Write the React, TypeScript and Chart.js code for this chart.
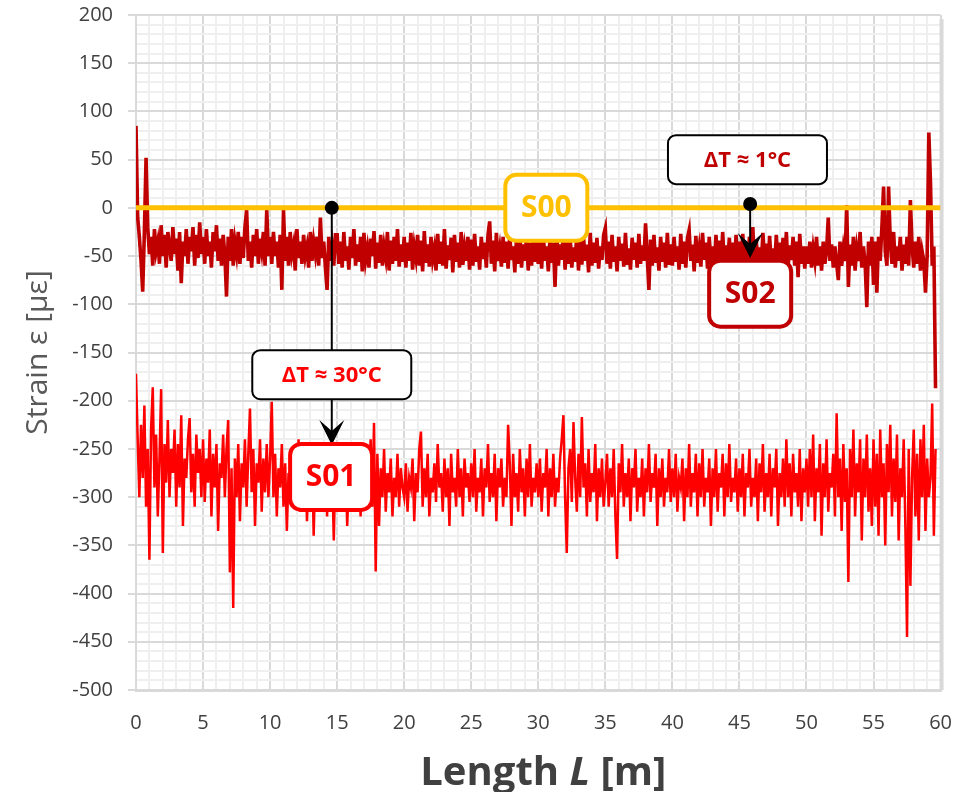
import React, { useEffect, useRef } from 'react';
import { Chart, registerables } from 'chart.js';

Chart.register(...registerables);

// ---- data ----
const STEP = 0.125; // m between samples of S01 / S02
const S00_X = [0, 60];
const S00_Y = [0, 0];

const S01_Y = [
  -172, -240, -300, -225, -280, -205, -310, -250, -365, -230, -186, -290, -235, -320, -260, -188, -358, -245, -285, -220,
  -300, -250, -275, -230, -310, -245, -290, -215, -330, -260, -280, -240, -218, -295, -255, -310, -235, -275, -250, -300,
  -240, -305, -260, -285, -230, -320, -255, -290, -245, -335, -265, -280, -235, -300, -250, -220, -378, -270, -415, -260,
  -300, -245, -325, -265, -290, -240, -310, -255, -208, -295, -250, -330, -265, -285, -240, -315, -260, -295, -245, -300,
  -260, -201, -300, -255, -320, -270, -290, -245, -310, -265, -335, -275, -295, -250, -305, -270, -285, -240, -315, -265,
  -300, -255, -325, -275, -290, -250, -340, -270, -300, -245, -310, -280, -295, -260, -320, -255, -290, -270, -345, -265,
  -300, -260, -315, -275, -295, -255, -330, -280, -300, -265, -310, -250, -290, -270, -320, -260, -305, -245, -295, -275,
  -240, -310, -223, -377, -255, -330, -270, -300, -250, -315, -275, -295, -260, -320, -280, -300, -255, -310, -270, -290,
  -300, -265, -315, -280, -290, -260, -325, -275, -295, -250, -232, -310, -270, -300, -255, -320, -280, -295, -265, -305,
  -245, -290, -275, -315, -260, -300, -270, -330, -255, -295, -280, -310, -250, -300, -270, -320, -260, -290, -275, -305,
  -265, -300, -250, -315, -280, -295, -260, -320, -270, -290, -245, -305, -275, -300, -255, -325, -270, -290, -260, -310,
  -280, -300, -225, -265, -330, -255, -300, -275, -315, -250, -295, -270, -320, -260, -300, -245, -310, -280, -295, -265,
  -300, -260, -315, -275, -290, -250, -320, -270, -300, -255, -310, -280, -295, -260, -240, -215, -300, -358, -270, -250,
  -305, -222, -280, -315, -255, -300, -217, -290, -265, -320, -250, -305, -275, -295, -245, -325, -270, -300, -260, -310,
  -285, -255, -310, -270, -300, -250, -320, -364, -265, -295, -245, -310, -275, -300, -260, -325, -270, -290, -250, -315,
  -280, -300, -260, -320, -270, -295, -245, -305, -275, -290, -255, -330, -270, -300, -260, -310, -280, -295, -250, -305,
  -270, -300, -255, -315, -280, -290, -260, -325, -270, -300, -245, -310, -275, -295, -255, -320, -265, -300, -250, -310,
  -280, -295, -260, -330, -270, -300, -250, -315, -275, -290, -255, -320, -265, -300, -245, -305, -280, -295, -260, -315,
  -270, -300, -255, -320, -275, -290, -250, -310, -280, -300, -260, -325, -265, -295, -245, -315, -275, -300, -255, -320,
  -270, -290, -250, -330, -275, -300, -260, -310, -240, -300, -265, -320, -255, -295, -275, -310, -250, -325, -270, -295,
  -260, -310, -250, -300, -235, -325, -270, -295, -245, -340, -265, -300, -240, -315, -275, -290, -255, -320, -213, -300,
  -260, -335, -245, -305, -270, -388, -250, -300, -230, -320, -265, -295, -240, -345, -260, -300, -235, -315, -270, -330,
  -240, -310, -255, -340, -230, -300, -265, -350, -245, -295, -225, -320, -260, -305, -235, -345, -270, -300, -240, -330,
  -445, -250, -392, -280, -230, -320, -255, -345, -240, -300, -225, -335, -260, -300, -280, -203, -340, -250,
];

const S02_Y = [
  85, -10, -30, -55, -87, -25, 52, -20, -48, -30, -60, -22, -45, -35, -58, -18, -50, -28, -62, -25,
  -40, -55, -20, -48, -32, -65, -25, -78, -35, -50, -22, -58, -30, -45, -20, -60, -28, -52, -15, -48,
  -30, -58, -22, -50, -35, -62, -25, -45, -18, -55, -32, -60, -28, -48, -92, -30, -55, -22, -60, -35,
  -48, -25, -58, -30, -52, -20, -2, -55, -35, -62, -28, -50, -22, -58, -32, -45, -25, -60, -2, -50,
  -30, -58, -25, -50, -35, -62, -28, -85, -2, -55, -30, -60, -25, -48, -38, -65, -22, -52, -35, -58,
  -28, -50, -40, -62, -25, -55, -35, -48, -30, -60, -10, -52, -35, -62, -85, -30, -55, -40, -60, -28,
  -28, -58, -35, -62, -25, -55, -40, -64, -30, -52, -22, -60, -38, -56, -30, -66, -26, -54, -42, -62,
  -32, -50, -24, -63, -36, -57, -28, -60, -40, -52, -25, -65, -34, -58, -30, -55, -22, -61, -38, -56,
  -30, -62, -36, -55, -26, -64, -40, -52, -28, -60, -34, -66, -24, -57, -38, -61, -30, -53, -42, -65,
  -27, -58, -35, -60, -22, -63, -39, -54, -31, -67, -28, -56, -36, -62, -25, -59, -41, -55, -30, -64,
  -33, -60, -27, -56, -40, -64, -30, -53, -36, -62, -28, -14, -58, -34, -66, -26, -55, -42, -61, -30,
  -57, -35, -63, -28, -54, -40, -67, -31, -58, -25, -62, -38, -55, -29, -65, -36, -60, -27, -56, -41,
  -58, -32, -63, -28, -55, -40, -66, -30, -57, -36, -82, -27, -60, -38, -54, -25, -64, -35, -58, -29,
  -62, -41, -56, -27, -65, -34, -59, -30, -55, -38, -67, -26, -60, -36, -57, -31, -63, -40, -54, -28,
  -21, -58, -35, -63, -28, -56, -40, -66, -30, -55, -37, -61, -26, -59, -42, -64, -31, -54, -36, -62,
  -27, -58, -39, -55, -16, -50, -85, -33, -60, -28, -57, -41, -65, -30, -56, -36, -62, -26, -59, -38,
  -60, -30, -56, -40, -64, -27, -58, -35, -62, -31, -23, -55, -38, -66, -29, -57, -42, -61, -26, -54,
  -36, -63, -30, -58, -40, -65, -28, -56, -34, -62, -25, -59, -39, -55, -31, -67, -36, -57, -28, -61,
  -35, -58, -27, -63, -40, -55, -30, -60, -20, -64, -33, -57, -41, -62, -26, -55, -37, -66, -29, -58,
  -42, -61, -28, -56, -36, -65, -31, -59, -25, -62, -39, -54, -30, -60, -35, -72, -27, -58, -40, -63,
  -40, -58, -35, -62, -42, -55, -30, -60, -40, -65, -35, -58, -44, -10, -55, -38, -62, -40, -58, -75,
  -35, -60, -42, -55, 3, -82, -38, -60, -30, -65, -42, -55, -25, -62, -40, -58, -103, -35, -60, -30,
  -80, -35, -88, -30, -55, -20, 22, -45, -60, 22, -35, -58, -25, -62, -40, -55, -30, -65, -38, -58,
  -30, -60, 8, -40, -62, -35, -58, -30, -65, -45, -55, -88, -50, 78, 26, -60, -40, -187,
];

const X_MIN = 0;
const X_MAX = 60;
const X_MINOR = 1;
const X_MAJOR = 5;
const Y_MIN = -500;
const Y_MAX = 200;
const Y_MINOR = 10;
const Y_MAJOR = 50;

const X_TITLE_PARTS = ['Length ', 'L', ' [m]'];
const Y_TITLE = 'Strain ε [με]';

// annotations (data coordinates)
const ARROW_X = [14.6, 45.8];
const ARROW_FROM_Y = [0, 4];
const ARROW_TO_Y = [-246, -52];
const NOTE_TEXT = ['ΔT ≈ 30°C', 'ΔT ≈ 1°C'];
const NOTE_X = [14.6, 45.6];
const NOTE_Y = [-173, 50];
const TAG_TEXT = ['S00', 'S01', 'S02'];
const TAG_X = [30.6, 14.55, 45.8];
const TAG_Y = [0, -279, -89];

const C_S00 = '#FFC000';
const C_S01 = '#FF0000';
const C_S02 = '#C00000';
const TAG_COLORS = [C_S00, C_S01, C_S02];
const NOTE_COLORS = [C_S01, C_S02];

const FONT = '"Open Sans", "DejaVu Sans", sans-serif';

function roundRect(ctx: CanvasRenderingContext2D, x: number, y: number, w: number, h: number, r: number) {
  ctx.beginPath();
  ctx.moveTo(x + r, y);
  ctx.lineTo(x + w - r, y);
  ctx.arcTo(x + w, y, x + w, y + r, r);
  ctx.lineTo(x + w, y + h - r);
  ctx.arcTo(x + w, y + h, x + w - r, y + h, r);
  ctx.lineTo(x + r, y + h);
  ctx.arcTo(x, y + h, x, y + h - r, r);
  ctx.lineTo(x, y + r);
  ctx.arcTo(x, y, x + r, y, r);
  ctx.closePath();
}

const decorPlugin = {
  id: 'decor',
  beforeDatasetsDraw(chart: any) {
    const { ctx, chartArea } = chart;
    ctx.save();
    ctx.strokeStyle = '#d9d9d9';
    ctx.lineWidth = 4;
    ctx.beginPath();
    ctx.moveTo(chartArea.right + 1, chartArea.top + 4);
    ctx.lineTo(chartArea.right + 1, chartArea.bottom);
    ctx.stroke();
    ctx.restore();
  },
  afterDatasetsDraw(chart: any) {
    const { ctx } = chart;
    const xs = chart.scales.x;
    const ys = chart.scales.y;
    ctx.save();
    for (let k = 0; k < ARROW_X.length; k++) {
      const px = xs.getPixelForValue(ARROW_X[k]);
      const py0 = ys.getPixelForValue(ARROW_FROM_Y[k]);
      const py1 = ys.getPixelForValue(ARROW_TO_Y[k]);
      ctx.strokeStyle = '#000';
      ctx.fillStyle = '#000';
      ctx.lineWidth = 2;
      ctx.beginPath();
      ctx.moveTo(px, py0);
      ctx.lineTo(px, py1 - 12);
      ctx.stroke();
      ctx.beginPath();
      ctx.moveTo(px, py1);
      ctx.lineTo(px - 12.5, py1 - 25);
      ctx.lineTo(px, py1 - 14);
      ctx.lineTo(px + 12.5, py1 - 25);
      ctx.closePath();
      ctx.fill();
      ctx.beginPath();
      ctx.arc(px, py0, 7, 0, Math.PI * 2);
      ctx.fill();
    }
    for (let k = 0; k < NOTE_TEXT.length; k++) {
      const cx = xs.getPixelForValue(NOTE_X[k]);
      const cy = ys.getPixelForValue(NOTE_Y[k]);
      const w = 159, h = 49;
      roundRect(ctx, cx - w / 2, cy - h / 2, w, h, 8);
      ctx.fillStyle = '#fff';
      ctx.fill();
      ctx.strokeStyle = '#000';
      ctx.lineWidth = 2;
      ctx.stroke();
      ctx.fillStyle = NOTE_COLORS[k];
      ctx.font = `bold 22px ${FONT}`;
      ctx.textAlign = 'center';
      ctx.textBaseline = 'middle';
      ctx.fillText(NOTE_TEXT[k], cx, cy + 1);
    }
    for (let k = 0; k < TAG_TEXT.length; k++) {
      const cx = xs.getPixelForValue(TAG_X[k]);
      const cy = ys.getPixelForValue(TAG_Y[k]);
      const w = 82, h = 66;
      roundRect(ctx, cx - w / 2, cy - h / 2, w, h, 11);
      ctx.fillStyle = '#fff';
      ctx.fill();
      ctx.strokeStyle = TAG_COLORS[k];
      ctx.lineWidth = 4;
      ctx.stroke();
      ctx.fillStyle = TAG_COLORS[k];
      ctx.font = `bold 30px ${FONT}`;
      ctx.textAlign = 'center';
      ctx.textBaseline = 'middle';
      ctx.fillText(TAG_TEXT[k], cx, cy + 1);
    }
    ctx.restore();
  },
  afterDraw(chart: any) {
    const { ctx, chartArea } = chart;
    ctx.save();
    const fonts = [`bold 40px ${FONT}`, `italic bold 40px ${FONT}`, `bold 40px ${FONT}`];
    let total = 0;
    const widths: number[] = [];
    for (let i = 0; i < X_TITLE_PARTS.length; i++) {
      ctx.font = fonts[i];
      const w = ctx.measureText(X_TITLE_PARTS[i]).width;
      widths.push(w);
      total += w;
    }
    let x = (chartArea.left + chartArea.right) / 2 + 5 - total / 2;
    ctx.fillStyle = '#404040';
    ctx.textBaseline = 'alphabetic';
    ctx.textAlign = 'left';
    for (let i = 0; i < X_TITLE_PARTS.length; i++) {
      ctx.font = fonts[i];
      ctx.fillText(X_TITLE_PARTS[i], x, 785);
      x += widths[i];
    }
    ctx.restore();
  },
};

function isMult(v: number, m: number) {
  return Math.abs(Math.round(v / m) * m - v) < 1e-6;
}

export default function App() {
  const ref = useRef<HTMLCanvasElement | null>(null);
  useEffect(() => {
    if (!ref.current) return;
    const s01 = S01_Y.map((v, i) => ({ x: i * STEP, y: v }));
    const s02 = S02_Y.map((v, i) => ({ x: i * STEP, y: v }));
    const s00 = S00_Y.map((v, i) => ({ x: S00_X[i], y: v }));
    const chart = new Chart(ref.current, {
      type: 'line',
      data: {
        datasets: [
          { label: 'S00', data: s00, borderColor: C_S00, borderWidth: 5, pointRadius: 0, order: 0 },
          { label: 'S02', data: s02, borderColor: C_S02, borderWidth: 3.6, pointRadius: 0, order: 1 },
          { label: 'S01', data: s01, borderColor: C_S01, borderWidth: 2.5, pointRadius: 0, order: 2 },
        ],
      },
      options: {
        animation: false,
        responsive: false,
        layout: { padding: { left: 0, right: 24, top: 15, bottom: 0 } },
        plugins: { legend: { display: false }, tooltip: { enabled: false } },
        elements: { line: { tension: 0 } },
        scales: {
          x: {
            type: 'linear',
            min: X_MIN,
            max: X_MAX,
            afterFit: (s: any) => { s.height = 102; },
            ticks: {
              stepSize: X_MINOR,
              autoSkip: false,
              maxRotation: 0,
              color: '#404040',
              padding: 13,
              font: { family: FONT, size: 20 },
              callback: (v: any) => (isMult(Number(v), X_MAJOR) ? String(v) : ''),
            },
            grid: {
              color: (c: any) => (c.tick && isMult(c.tick.value, X_MAJOR) ? '#d9d9d9' : '#efefef'),
              lineWidth: 2,
              tickLength: 8,
              tickColor: 'transparent',
            },
            border: { color: '#d9d9d9', width: 3 },
          },
          y: {
            type: 'linear',
            min: Y_MIN,
            max: Y_MAX,
            afterFit: (s: any) => { s.width = 136; s.paddingTop = 0; s.paddingBottom = 0; },
            ticks: {
              stepSize: Y_MINOR,
              autoSkip: false,
              color: '#404040',
              padding: 15,
              font: { family: FONT, size: 20 },
              callback: (v: any) => (isMult(Number(v), Y_MAJOR) ? String(v) : ''),
            },
            grid: {
              color: (c: any) => (c.tick && isMult(c.tick.value, Y_MAJOR) ? '#d9d9d9' : '#efefef'),
              lineWidth: 2,
              tickLength: 8,
              tickColor: (c: any) => (c.tick && isMult(c.tick.value, Y_MAJOR) ? '#d9d9d9' : 'transparent'),
            },
            border: { color: '#d9d9d9', width: 2 },
            title: {
              display: true,
              text: Y_TITLE,
              color: '#595959',
              font: { family: FONT, size: 30 },
              padding: { top: 20, bottom: 0 },
            },
          },
        },
      },
      plugins: [decorPlugin],
    } as any);
    return () => chart.destroy();
  }, []);
  return (
    <div style={{ position: 'fixed', left: 0, top: 0, width: 965, height: 792, background: '#fff' }}>
      <canvas ref={ref} width={965} height={792} style={{ display: 'block' }} />
    </div>
  );
}
